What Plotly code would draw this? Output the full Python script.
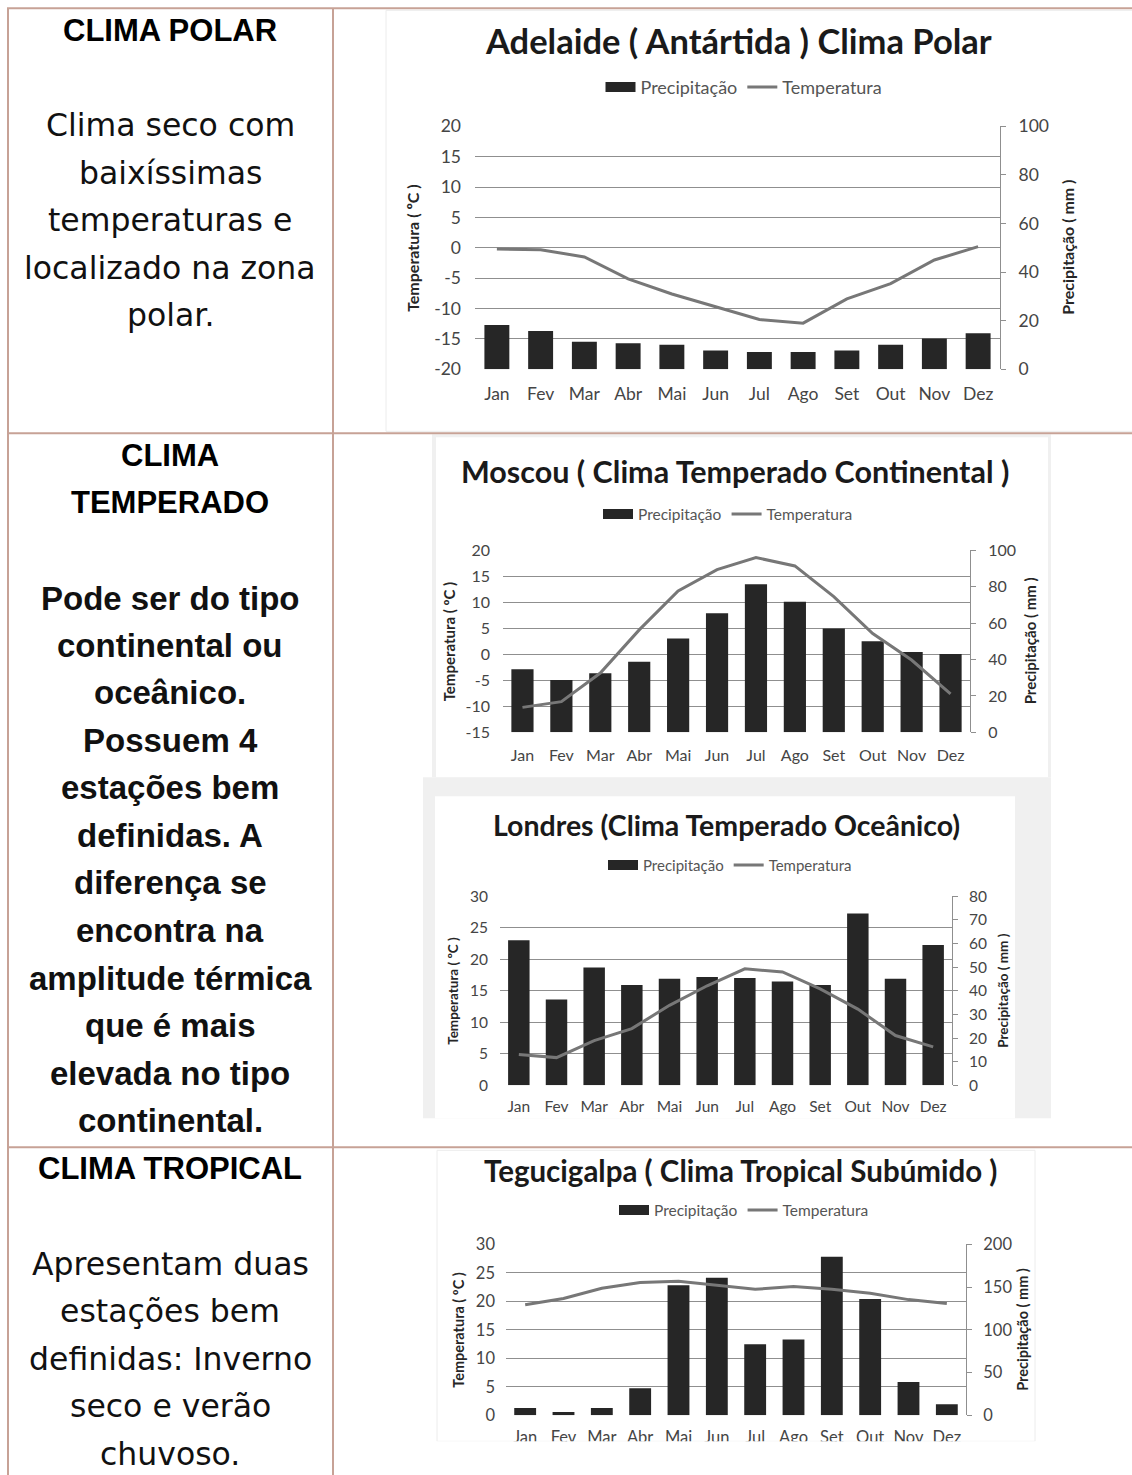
import plotly.graph_objects as go

# ---------------- data ----------------
meses = ["Jan", "Fev", "Mar", "Abr", "Mai", "Jun", "Jul", "Ago", "Set", "Out", "Nov", "Dez"]

adelaide_precip = [18.2, 15.8, 11.4, 10.7, 10.1, 7.8, 7.1, 7.1, 7.8, 10.1, 12.7, 14.9]
adelaide_temp = [-0.2, -0.3, -1.5, -5.1, -7.6, -9.7, -11.8, -12.4, -8.4, -5.9, -2.0, 0.2]

moscou_precip = [34.7, 28.7, 32.4, 38.8, 51.6, 65.4, 81.4, 71.8, 57.0, 50.1, 44.2, 43.1]
moscou_temp = [-10.2, -9.1, -3.6, 4.7, 12.2, 16.3, 18.6, 17.0, 11.1, 4.0, -1.1, -7.6]

londres_precip = [61.4, 36.3, 49.9, 42.5, 45.1, 45.9, 45.4, 43.9, 42.5, 72.7, 45.1, 59.4]
londres_temp = [4.9, 4.4, 7.1, 9.0, 12.7, 15.8, 18.5, 18.0, 15.3, 12.1, 7.9, 6.1]

teguc_precip = [8.6, 3.9, 8.6, 31.6, 152, 161, 83, 88.7, 185.5, 136, 39, 12.9]
teguc_temp = [19.4, 20.5, 22.3, 23.3, 23.5, 22.8, 22.1, 22.6, 22.1, 21.4, 20.3, 19.6]

titulos = [
    "Adelaide ( Antártida ) Clima Polar",
    "Moscou ( Clima Temperado Continental )",
    "Londres (Clima Temperado Oceânico)",
    "Tegucigalpa ( Clima Tropical Subúmido )",
]

row_texts = [
    (["CLIMA POLAR"], ["Clima seco com", "baixíssimas", "temperaturas e", "localizado na zona", "polar."]),
    (["CLIMA", "TEMPERADO"], ["Pode ser do tipo", "continental ou", "oceânico.", "Possuem 4", "estações bem",
                              "definidas. A", "diferença se", "encontra na", "amplitude térmica", "que é mais",
                              "elevada no tipo", "continental."]),
    (["CLIMA TROPICAL"], ["Apresentam duas", "estações bem", "definidas: Inverno", "seco e verão", "chuvoso."]),
]

# ---------------- layout helpers ----------------
# Empirical mapping of the photographed page: y_photo = 0.986 * (y_fig - SHIFT) + 10.5
SCALE, OFFS, SHIFT = 0.986, 10.5, 11
W = 1132
H = 1498


def fx(x):
    return x / W


def fy(y):
    yf = (y - OFFS) / SCALE + SHIFT
    return 1 - yf / H


BAR = "#262626"
LINE = "#777777"
GRID = "#8f8f8f"
TXT = "#454545"
FONT = "Lato"
BORDER = "#c7a296"

charts = [
    dict(title=titulos[0], precip=adelaide_precip, temp=adelaide_temp,
         box=(475, 1000, 126, 369), trange=(-20, 20), tstep=5, prange=(0, 100), pstep=20,
         tpos=(738, 40), tsize=34.5, lpos=(744, 87), lsize=18, ksize=17.5,
         lt_x=413, rt_x=1068, atsize=16, so_l=13, so_r=9, so_x=12),
    dict(title=titulos[1], precip=moscou_precip, temp=moscou_temp,
         box=(503, 970, 550, 732), trange=(-15, 20), tstep=5, prange=(0, 100), pstep=20,
         tpos=(735, 471), tsize=30.5, lpos=(728, 514), lsize=15.5, ksize=16,
         lt_x=449, rt_x=1030, atsize=15, so_l=12, so_r=9, so_x=12),
    dict(title=titulos[2], precip=londres_precip, temp=londres_temp,
         box=(500, 952, 896, 1085), trange=(0, 30), tstep=5, prange=(0, 80), pstep=10,
         tpos=(726, 825), tsize=28.5, lpos=(730, 865), lsize=15, ksize=15.5,
         lt_x=453, rt_x=1003, atsize=13.5, so_l=11, so_r=8, so_x=10),
    dict(title=titulos[3], precip=teguc_precip, temp=teguc_temp,
         box=(506, 966, 1244, 1415), trange=(0, 30), tstep=5, prange=(0, 200), pstep=50,
         tpos=(740, 1170), tsize=29.5, lpos=(744, 1210), lsize=15.5, ksize=16.5,
         lt_x=459, rt_x=1023, atsize=14.5, so_l=10, so_r=8, so_x=10),
]

fig = go.Figure()
annotations = []
shapes = []
layout = dict(
    width=W, height=H, margin=dict(l=0, r=0, t=0, b=0),
    paper_bgcolor="white", plot_bgcolor="rgba(0,0,0,0)",
    bargap=0.43, showlegend=True,
)


def ticks_for(lo, hi, step):
    vals = list(range(int(lo), int(hi) + 1, int(step)))
    return vals, [str(v) for v in vals]


for i, c in enumerate(charts, start=1):
    xk = "x" if i == 1 else f"x{i}"
    xkey = "xaxis" if i == 1 else f"xaxis{i}"
    pk = "y" if i == 1 else f"y{2 * i - 1}"
    pkey = "yaxis" if i == 1 else f"yaxis{2 * i - 1}"
    tk = f"y{2 * i}"
    tkey = f"yaxis{2 * i}"
    lkey = "legend" if i == 1 else f"legend{i}"

    x0, x1, ytop, ybot = c["box"]
    tickfont = dict(family=FONT, size=c["ksize"], color=TXT)
    pv, pt = ticks_for(c["prange"][0], c["prange"][1], c["pstep"])
    tv, tt = ticks_for(c["trange"][0], c["trange"][1], c["tstep"])

    layout[xkey] = dict(
        domain=[fx(x0), fx(x1)], anchor=pk, type="category",
        categoryorder="array", categoryarray=meses, range=[-0.5, 11.5],
        showgrid=False, zeroline=False, showline=False, ticks="",
        tickfont=tickfont, ticklabelstandoff=c["so_x"], fixedrange=True,
    )
    layout[pkey] = dict(
        domain=[fy(ybot), fy(ytop)], anchor=xk, side="right",
        range=list(c["prange"]), tickmode="array", tickvals=pv, ticktext=pt,
        showgrid=False, zeroline=False, showline=True, linecolor=GRID, linewidth=1,
        ticks="outside", ticklen=5, tickcolor=GRID, tickwidth=1,
        tickfont=tickfont, ticklabelstandoff=c["so_r"],
    )
    layout[tkey] = dict(
        overlaying=pk, anchor=xk, side="left",
        range=list(c["trange"]), tickmode="array", tickvals=tv, ticktext=tt,
        showgrid=True, gridcolor=GRID, gridwidth=1, zeroline=False, showline=False,
        ticks="", tickfont=tickfont, ticklabelstandoff=c["so_l"],
    )
    layout[lkey] = dict(
        orientation="h", x=fx(c["lpos"][0]), xanchor="center", y=fy(c["lpos"][1]), yanchor="middle",
        xref="paper", yref="paper", bgcolor="rgba(0,0,0,0)",
        font=dict(family=FONT, size=c["lsize"], color="#555555"),
        itemwidth=30, tracegroupgap=0,
    )

    # legend swatch for precipitation (wide dark block like the original)
    fig.add_trace(go.Scatter(
        x=[None], y=[None], mode="lines", name="Precipitação",
        line=dict(color=BAR, width=12), xaxis=xk, yaxis=pk, legend=lkey, hoverinfo="skip",
    ))
    fig.add_trace(go.Bar(
        x=meses, y=c["precip"], name="Precipitação", marker=dict(color=BAR, line=dict(width=0)),
        xaxis=xk, yaxis=pk, showlegend=False, legend=lkey,
    ))
    fig.add_trace(go.Scatter(
        x=meses, y=c["temp"], name="Temperatura", mode="lines",
        line=dict(color=LINE, width=3), xaxis=xk, yaxis=tk, legend=lkey,
    ))

    annotations.append(dict(
        text=f"<b>{c['title']}</b>", x=fx(c["tpos"][0]), y=fy(c["tpos"][1]),
        xref="paper", yref="paper", xanchor="center", yanchor="middle", showarrow=False,
        font=dict(family=FONT, size=c["tsize"], color="#1a1a1a"),
    ))
    ymid = (ytop + ybot) / 2
    annotations.append(dict(
        text="<b>Temperatura ( ºC )</b>", x=fx(c["lt_x"]), y=fy(ymid), textangle=-90,
        xref="paper", yref="paper", xanchor="center", yanchor="middle", showarrow=False,
        font=dict(family=FONT, size=c["atsize"], color="#262626"),
    ))
    annotations.append(dict(
        text="<b>Precipitação ( mm )</b>", x=fx(c["rt_x"]), y=fy(ymid), textangle=-90,
        xref="paper", yref="paper", xanchor="center", yanchor="middle", showarrow=False,
        font=dict(family=FONT, size=c["atsize"], color="#262626"),
    ))

# ---------------- left column text ----------------
head_y = [[30], [455, 502], [1168]]
body_y = [
    [125, 173, 220, 268, 315],
    [598, 645, 692, 740, 787, 835, 882, 930, 978, 1025, 1073, 1120],
    [1264, 1311, 1359, 1406, 1454],
]
body_fonts = [
    dict(family="DejaVu Sans", size=31.5, color="#111111"),
    dict(family="Liberation Sans", size=33, color="#111111", weight="bold"),
    dict(family="DejaVu Sans", size=31.5, color="#111111"),
]
for r, (heads, body) in enumerate(row_texts):
    for t, yy in zip(heads, head_y[r]):
        annotations.append(dict(
            text=f"<b>{t}</b>", x=fx(170), y=fy(yy), xref="paper", yref="paper",
            xanchor="center", yanchor="middle", showarrow=False,
            font=dict(family="Liberation Sans", size=31, color="#000000"),
        ))
    for t, yy in zip(body, body_y[r]):
        annotations.append(dict(
            text=t, x=fx(170), y=fy(yy), xref="paper", yref="paper",
            xanchor="center", yanchor="middle", showarrow=False, font=body_fonts[r],
        ))


# ---------------- frames & table borders ----------------
def rect(x0, y0, x1, y1, fill="rgba(0,0,0,0)", line=None, layer="below", lw=1):
    return dict(type="rect", xref="paper", yref="paper", x0=fx(x0), x1=fx(x1), y0=fy(y1), y1=fy(y0),
                fillcolor=fill, line=dict(width=lw if line else 0, color=line or "rgba(0,0,0,0)"),
                layer=layer)


def seg(x0, y0, x1, y1, color=BORDER, w=2):
    return dict(type="line", xref="paper", yref="paper", x0=fx(x0), x1=fx(x1), y0=fy(y0), y1=fy(y1),
                line=dict(color=color, width=w), layer="above")


shapes += [
    rect(386, 10, 1140, 431, line="#ececec"),
    rect(432, 434, 1051, 777, fill="#f0f0f0"),
    rect(436, 437, 1048, 777, fill="#ffffff"),
    rect(423, 777, 1051, 1118, fill="#f0f0f0"),
    rect(435, 796, 1015, 1118, fill="#ffffff"),
    rect(437, 1150, 1035, 1441, line="#ececec"),
    rect(436, 1441, 1045, 1490, fill="#ffffff", layer="above"),
    seg(7, 8, 1140, 8),
    seg(8, 8, 8, 1490),
    seg(333, 8, 333, 1490),
    seg(7, 433, 1140, 433),
    seg(7, 1147, 1140, 1147),
]

layout["annotations"] = annotations
layout["shapes"] = shapes
fig.update_layout(**layout)

post = (
    "document.body.style.margin='0';"
    "document.documentElement.style.overflow='hidden';"
    "var d=document.getElementById('{plot_id}');"
    "d.style.position='absolute';d.style.left='0px';d.style.top='-" + str(SHIFT) + "px';"
)
fig.write_html("out.html", config={"displayModeBar": False}, post_script=post)
